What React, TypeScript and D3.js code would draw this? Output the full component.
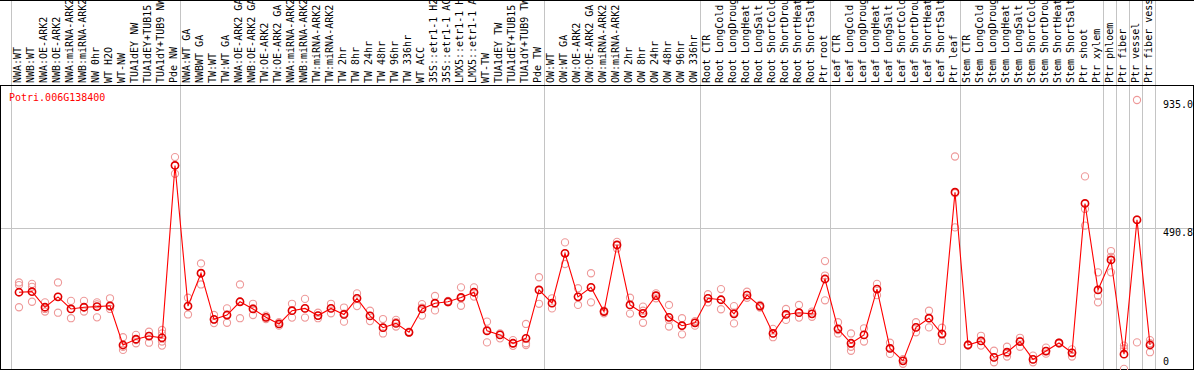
import React from "react";
import * as d3 from "d3";

const title = "Potri.006G138400";

const labels: string[] = [
  "NWA:WT", "NWB:WT", "NWA:OE-ARK2", "NWB:OE-ARK2", "NWA:miRNA-ARK2", "NWB:miRNA-ARK2", "NW 0hr", "WT H2O", "WT-NW", "TUA1dEY NW", "TUA1dEY+TUB15 NW", "TUA1dY+TUB9 NW", "Pde NW",
  "NWA:WT GA", "NWBWT GA", "TW:WT", "TW:WT GA", "NWA:OE-ARK2 GA", "NWB:OE-ARK2 GA", "TW:OE-ARK2", "TW:OE-ARK2 GA", "NWA:miRNA-ARK2 GA", "NWB:miRNA-ARK2 GA", "TW:miRNA-ARK2", "TW:miRNA-ARK2 GA",
  "TW 2hr", "TW 8hr", "TW 24hr", "TW 48hr", "TW 96hr", "TW 336hr", "WT ACC", "35S::etr1-1 H2O", "35S::etr1-1 ACC", "LMX5::etr1-1 H2O", "LMX5::etr1-1 ACC", "WT-TW", "TUA1dEY TW", "TUA1dEY+TUB15 TW", "TUA1dY+TUB9 TW", "Pde TW",
  "OW:WT", "OW:WT GA", "OW:OE-ARK2", "OW:OE-ARK2 GA", "OW:miRNA-ARK2", "OW:miRNA-ARK2 GA", "OW 2hr", "OW 8hr", "OW 24hr", "OW 48hr", "OW 96hr", "OW 336hr",
  "Root CTR", "Root LongCold", "Root LongDrought", "Root LongHeat", "Root LongSalt", "Root ShortCold", "Root ShortDrought", "Root ShortHeat", "Root ShortSalt", "Ptr root",
  "Leaf CTR", "Leaf LongCold", "Leaf LongDrought", "Leaf LongHeat", "Leaf LongSalt", "Leaf ShortCold", "Leaf ShortDrought", "Leaf ShortHeat", "Leaf ShortSalt", "Ptr leaf",
  "Stem CTR", "Stem LongCold", "Stem LongDrought", "Stem LongHeat", "Stem LongSalt", "Stem ShortCold", "Stem ShortDrought", "Stem ShortHeat", "Stem ShortSalt",
  "Ptr shoot", "Ptr xylem", "Ptr phloem", "Ptr fiber", "Ptr vessel", "Ptr fiber vessel",
];

const means: number[] = [
  268, 270, 216, 252, 210, 216, 218, 221, 85, 105, 116, 110, 708,
  220, 334, 174, 189, 235, 210, 181, 158, 204, 212, 187, 212, 191, 247, 186, 145, 160, 129, 210, 230, 235, 250, 268, 134, 120, 91, 108, 276,
  230, 403, 252, 285, 201, 432, 224, 195, 256, 181, 152, 162,
  247, 242, 193, 258, 220, 125, 191, 197, 193, 314,
  141, 91, 120, 279, 73, 30, 146, 178, 123, 615,
  85, 99, 42, 60, 97, 35, 64, 92, 58,
  576, 276, 380, 53, 519, 85,
];

const replicates: number[][] = [
  [302, 293, 216], [297, 287, 235], [233, 210, 201], [302, 252, 197], [238, 210, 178], [238, 216, 201], [233, 226, 181], [247, 218, 210], [112, 79, 68], [120, 102, 91], [131, 117, 93], [137, 125, 97, 83], [737, 708, 679],
  [249, 220, 191], [368, 334, 295], [189, 172, 161], [212, 189, 162], [295, 235, 178], [228, 212, 189], [187, 181, 175], [164, 158, 152], [228, 204, 180], [245, 212, 180], [197, 187, 178], [228, 212, 195], [215, 194, 166], [264, 247, 220], [204, 186, 168], [175, 145, 125], [172, 164, 149], [131, 129, 127], [227, 215, 187], [255, 230, 205], [238, 235, 233], [285, 247, 221], [285, 268, 253], [166, 137, 94], [125, 120, 108], [102, 91, 82], [158, 91, 85], [320, 276, 228],
  [247, 230, 212], [441, 403, 366], [282, 252, 224], [334, 285, 233], [204, 201, 195], [443, 432, 420], [249, 224, 194], [218, 204, 162], [264, 256, 247], [224, 172, 149], [178, 152, 122], [168, 162, 152],
  [261, 247, 233], [279, 242, 209], [220, 197, 160], [270, 258, 249], [224, 220, 215], [141, 125, 112], [210, 191, 172], [224, 197, 180], [201, 193, 183], [376, 326, 240],
  [164, 137, 125], [125, 79, 65], [143, 120, 97], [297, 279, 258], [93, 73, 54], [36, 30, 20], [164, 146, 129], [204, 178, 146], [145, 125, 99], [739, 611, 493],
  [87, 85, 83], [117, 99, 83], [65, 42, 25], [79, 56, 45], [110, 99, 79], [48, 35, 25], [76, 64, 55], [93, 92, 90], [70, 58, 45],
  [670, 557, 499], [337, 256, 233], [411, 391, 337], [83, 73, 2], [935, 521, 94], [102, 91, 60],
];

// column indices where a separator line is drawn (before that column)
const separators: number[] = [0, 13, 41, 53, 63, 73, 84, 85, 86, 87, 88];
const yTicks: number[] = [935.0, 490.8, 0];
const gridTicks: number[] = [490.8];

const W = 1194;
const H = 370;
const HEADER = 85;
const FONT = "'DejaVu Sans Mono', monospace";

export default function App() {
  const n = labels.length;
  const x = d3.scaleBand<number>().domain(d3.range(n)).range([11, 11 + 13 * n]).padding(0);
  const sepX = (i: number) => (i < n ? (x(i) as number) : (x(n - 1) as number) + x.step());
  const cx = (i: number) => (x(i) as number) + 8;
  const y = d3.scaleLinear().domain([0, 935]).range([369.5, 100]);
  const line = d3.line<number>().x((_, i) => cx(i)).y((d) => y(d));

  return (
    <svg width={W} height={H} style={{ position: "absolute", left: 0, top: 0, background: "#fff" }} fontFamily={FONT}>
      <rect x={0} y={0} width={W} height={H} fill="#fff" />
      {separators.map((s) => (
        <line key={"s" + s} x1={sepX(s) + 0.5} x2={sepX(s) + 0.5} y1={0} y2={369} stroke="#c4c4c4" strokeWidth={1} />
      ))}
      {gridTicks.map((t) => (
        <line key={"g" + t} x1={0} x2={W - 1} y1={Math.round(y(t)) + 0.5} y2={Math.round(y(t)) + 0.5} stroke="#c4c4c4" strokeWidth={1} />
      ))}
      {/* header */}
      <line x1={0} x2={W} y1={0.5} y2={0.5} stroke="#000" />
      <line x1={0} x2={W} y1={HEADER + 0.5} y2={HEADER + 0.5} stroke="#000" />
      {labels.map((l, i) => (
        <text key={"l" + i} transform={`translate(${cx(i) + 2},${HEADER - 2}) rotate(-90)`} fontSize={10} fill="#000">
          {l}
        </text>
      ))}
      {/* plot frame */}
      <line x1={0.5} x2={0.5} y1={HEADER} y2={H} stroke="#000" />
      <line x1={W - 0.5} x2={W - 0.5} y1={HEADER} y2={H} stroke="#000" />
      <line x1={0} x2={W} y1={369.5} y2={369.5} stroke="#000" />
      <text x={9} y={101} fontSize={10} fill="#ff0000">{title}</text>
      {yTicks.map((t) => (
        <text key={"t" + t} x={1163} y={Math.min(y(t) + 8, 365)} fontSize={10} fill="#000">
          {t === 0 ? "0" : t.toFixed(1)}
        </text>
      ))}
      {replicates.map((r, i) =>
        r.map((v, j) => (
          <circle key={"r" + i + "-" + j} cx={cx(i)} cy={y(v)} r={3.6} fill="none" stroke="#ee9999" strokeWidth={1.1} />
        ))
      )}
      <path d={line(means) || ""} fill="none" stroke="#ff0000" strokeWidth={1.1} />
      {means.map((v, i) => (
        <circle key={"m" + i} cx={cx(i)} cy={y(v)} r={3.6} fill="none" stroke="#e00000" strokeWidth={1.6} />
      ))}
    </svg>
  );
}
